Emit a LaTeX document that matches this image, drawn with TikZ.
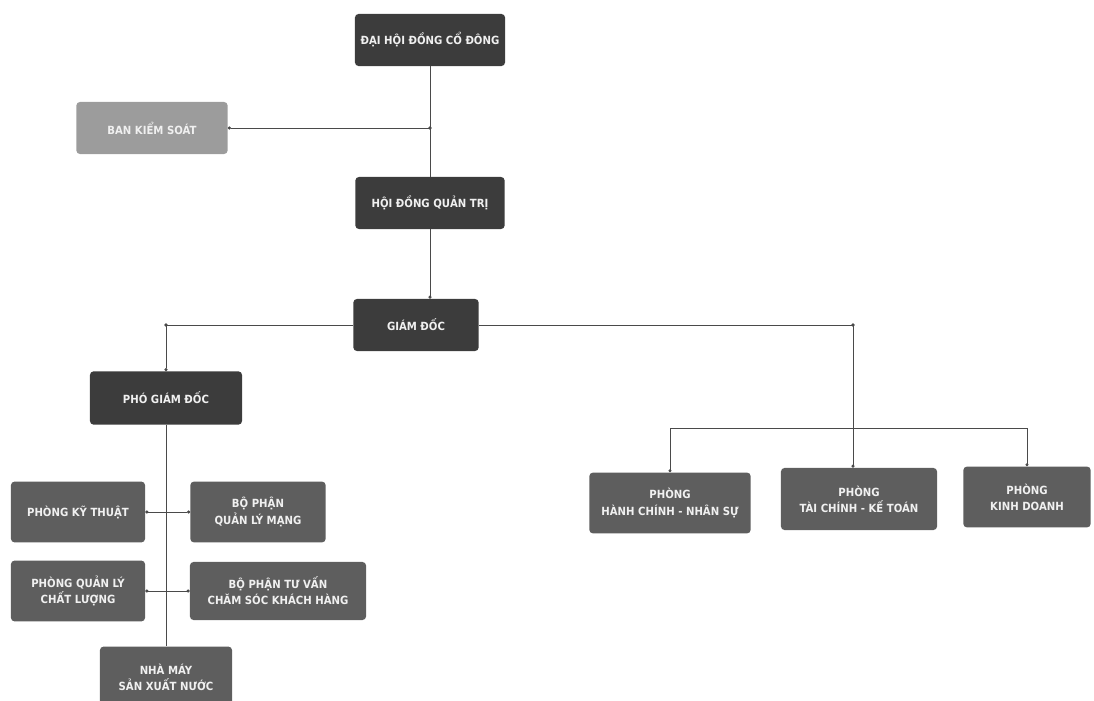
\documentclass[tikz,border=0pt]{standalone}
\usepackage{fontspec}
\setmainfont{DejaVu Sans Condensed}
\usetikzlibrary{arrows.meta}

\definecolor{boxdark}{HTML}{3C3C3C}
\definecolor{boxmid}{HTML}{5E5E5E}
\definecolor{boxlight}{HTML}{9C9C9C}
\definecolor{linegray}{HTML}{4A4A4A}

\begin{document}
\begin{tikzpicture}[x=0.025cm, y=-0.025cm,
    orgbox/.style={rectangle, rounded corners=2.5pt, text=white!94!black,
      align=center, inner sep=1pt, minimum height=1.3cm,
      font=\fontsize{8}{11.5}\selectfont\bfseries},
    topbox/.style={orgbox, fill=boxdark},
    subbox/.style={orgbox, fill=boxmid, minimum height=1.52cm},
    link/.style={draw=linegray, line width=0.6pt},
    tip/.style={-{Circle[length=2.2pt]}},
    dot/.style={fill=linegray}]
    \useasboundingbox (0,0) rectangle (1094,701);
    % Nodes
    \node (dhdcd) [topbox, minimum width=3.75cm] at (430,40)
    {ĐẠI HỘI ĐỒNG CỔ ĐÔNG};
    \node (bks) [orgbox, fill=boxlight, minimum width=3.78cm] at (152,128)
    {BAN KIỂM SOÁT};
    \node (hdqt) [topbox, minimum width=3.73cm] at (430,203)
    {HỘI ĐỒNG QUẢN TRỊ};
    \node (gd) [topbox, minimum width=3.13cm] at (416,325) {GIÁM ĐỐC};
    \node (pgd) [topbox, minimum width=3.8cm, minimum height=1.33cm] at
    (166,398) {PHÓ GIÁM ĐỐC};

    \node (pkt) [subbox, minimum width=3.35cm] at (78,512) {PHÒNG KỸ THUẬT};
    \node (bpqlm) [subbox, minimum width=3.38cm] at (258,512)
    {BỘ PHẬN\\ QUẢN LÝ MẠNG};
    \node (pqlcl) [subbox, minimum width=3.35cm] at (78,591)
    {PHÒNG QUẢN LÝ\\ CHẤT LƯỢNG};
    \node (bptv) [subbox, minimum width=4.4cm, minimum height=1.45cm] at
    (278,591) {BỘ PHẬN TƯ VẤN\\ CHĂM SÓC KHÁCH HÀNG};
    \node (nm) [subbox, minimum width=3.3cm] at (166,677)
    {NHÀ MÁY\\ SẢN XUẤT NƯỚC};

    \node (phcns) [subbox, minimum width=4.03cm] at (670,503)
    {PHÒNG\\ HÀNH CHÍNH - NHÂN SỰ};
    \node (ptckt) [subbox, minimum width=3.9cm, minimum height=1.55cm] at
    (859,499) {PHÒNG\\ TÀI CHÍNH - KẾ TOÁN};
    \node (pkd) [subbox, minimum width=3.18cm] at (1027,497)
    {PHÒNG\\ KINH DOANH};

    % Links
    \coordinate (j1) at (430,128);
    \coordinate (j2) at (pgd.north |- gd.west);
    \coordinate (j3) at (853,325);
    \coordinate (bus) at (853,428);

    \draw [link] (dhdcd.south) -- (hdqt.north);
    \draw [link, tip] (j1) -- (bks.east);
    \draw [link, tip] (hdqt.south) -- (hdqt.south |- gd.north);
    \draw [link, tip] (gd.west) -- (j2) -- (pgd.north);
    \draw [link] (gd.east) -- (j3);
    \draw [link, tip] (j3) -- (j3 |- ptckt.north);
    \draw [link, tip] (bus) -| (phcns.north);
    \draw [link, tip] (bus) -| (pkd.north);
    \draw [link] (pgd.south) -- (nm.north);
    \draw [link, {Circle[length=2.2pt]}-{Circle[length=2.2pt]}]
    (pkt.east) -- (bpqlm.west);
    \draw [link, {Circle[length=2.2pt]}-{Circle[length=2.2pt]}]
    (pqlcl.east) -- (bptv.west);
    \foreach \j in {j1, j2, j3}
    \fill [dot] (\j) circle (1.3pt);
  \end{tikzpicture}
\end{document}
